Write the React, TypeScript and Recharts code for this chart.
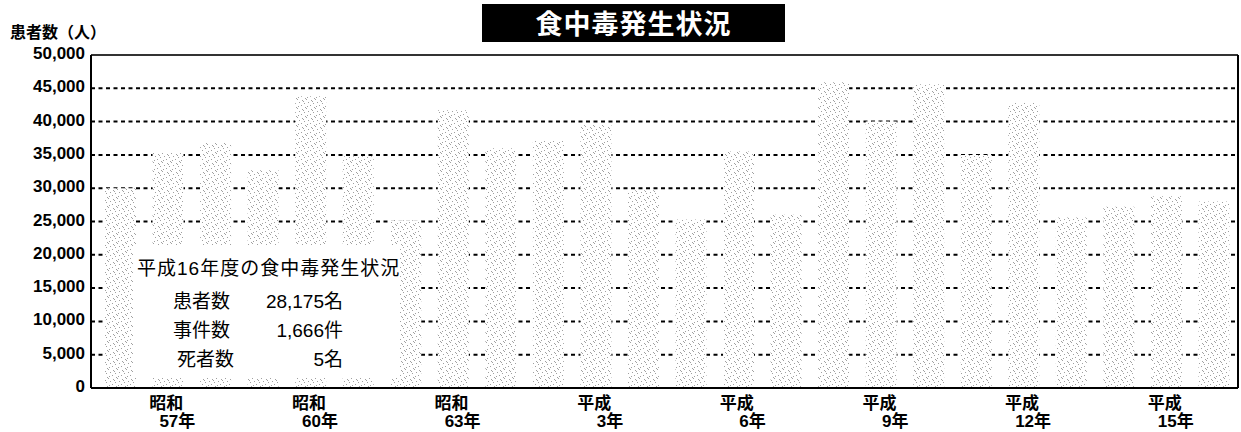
import React from 'react';
import { BarChart, Bar, XAxis, YAxis, CartesianGrid, ReferenceLine } from 'recharts';

const categories = [
  '昭和56', '昭和57', '昭和58', '昭和59', '昭和60', '昭和61', '昭和62', '昭和63',
  '平成1', '平成2', '平成3', '平成4', '平成5', '平成6', '平成7', '平成8',
  '平成9', '平成10', '平成11', '平成12', '平成13', '平成14', '平成15', '平成16',
];
const patients = [
  30000, 35300, 36800, 32700, 43800, 34800, 25200, 41700,
  36000, 37200, 39500, 29700, 25300, 35500, 26000, 45900,
  40000, 45600, 35000, 42800, 25600, 27200, 28800, 28000,
];
const yTicks = [0, 5000, 10000, 15000, 20000, 25000, 30000, 35000, 40000, 45000, 50000];
const tickCategories = ['昭和57', '昭和60', '昭和63', '平成3', '平成6', '平成9', '平成12', '平成15'];
const tickEras = ['昭和', '昭和', '昭和', '平成', '平成', '平成', '平成', '平成'];
const tickYears = ['57年', '60年', '63年', '3年', '6年', '9年', '12年', '15年'];
const chartTitle = '食中毒発生状況';
const yLabel = '患者数（人）';
const summaryTitle = '平成16年度の食中毒発生状況';
const summaryLabels = ['患者数', '事件数', '死者数'];
const summaryValues = ['28,175名', '1,666件', '5名'];

const data = categories.map((c, i) => ({ name: c, value: patients[i] }));

const FONT = "'Liberation Sans', Arial, 'Noto Sans CJK JP', sans-serif";

const XTick = (props: any) => {
  const { x, y, payload } = props;
  const i = tickCategories.indexOf(payload.value);
  if (i < 0) return <g />;
  return (
    <g>
      <text x={x - 2} y={y + 21} textAnchor="middle" fontSize={17} fontWeight="bold" fill="#000" fontFamily={FONT}>
        {tickEras[i]}
      </text>
      <text x={x + 27} y={y + 39} textAnchor="end" fontSize={17} fontWeight="bold" fill="#000" fontFamily={FONT}>
        {tickYears[i]}
      </text>
    </g>
  );
};

const dots: [number, number][] = [
  [0, 0], [5, 1], [2, 3], [7, 4], [4, 6], [1, 7], [8, 8], [6, 2],
];

export default function App() {
  return (
    <div style={{ position: 'absolute', left: 0, top: 0, width: 1241, height: 432, background: '#fff', fontFamily: FONT }}>
      <BarChart
        width={1241}
        height={432}
        data={data}
        margin={{ top: 55, right: 0, bottom: 0, left: 0 }}
        barSize={31}
      >
        <defs>
          <pattern id="stipple" patternUnits="userSpaceOnUse" width={9} height={9}>
            <rect x={0} y={0} width={9} height={9} fill="#fff" />
            {dots.map(([dx, dy], k) => (
              <rect key={k} x={dx} y={dy} width={1} height={1} fill="#a0a0a0" />
            ))}
          </pattern>
        </defs>
        <CartesianGrid
          vertical={false}
          stroke="#000"
          strokeWidth={2}
          strokeDasharray="4 3.5"
        />
        <XAxis
          dataKey="name"
          height={44}
          interval={0}
          tickLine={false}
          tickSize={0}
          tickMargin={0}
          padding={{ left: 6, right: 0 }}
          axisLine={{ stroke: '#000', strokeWidth: 2 }}
          tick={<XTick />}
        />
        <YAxis
          width={91}
          domain={[0, 50000]}
          ticks={yTicks}
          interval={0}
          tickLine={false}
          tickSize={0}
          tickMargin={6}
          axisLine={{ stroke: '#000', strokeWidth: 2 }}
          tickFormatter={(v: number) => v.toLocaleString('en-US')}
          tick={{ fontSize: 17, fontWeight: 'bold', fill: '#000', fontFamily: FONT, dy: -2 }}
        />
        <YAxis
          yAxisId="right"
          orientation="right"
          width={3}
          domain={[0, 50000]}
          tick={false}
          tickLine={false}
          axisLine={{ stroke: '#000', strokeWidth: 2 }}
        />
        <ReferenceLine y={50000} stroke="#333" strokeWidth={2} />
        <Bar dataKey="value" fill="url(#stipple)" isAnimationActive={false} />
      </BarChart>

      <div
        style={{
          position: 'absolute', left: 10, top: 21, fontSize: 16, fontWeight: 'bold',
          fontFamily: "'Noto Sans CJK JP', sans-serif", lineHeight: '20px', color: '#000',
        }}
      >
        {yLabel}
      </div>

      <div
        style={{
          position: 'absolute', left: 482, top: 4, width: 303, height: 38, background: '#000',
          color: '#fff', fontSize: 27, fontWeight: 'bold', textAlign: 'center', lineHeight: '38px',
          fontFamily: "'Noto Sans CJK JP', sans-serif", letterSpacing: 1,
        }}
      >
        {chartTitle}
      </div>

      <div
        style={{
          position: 'absolute', left: 133, top: 245, width: 267, height: 133, background: '#fff',
          color: '#000', fontFamily: FONT,
        }}
      >
        <div style={{ position: 'absolute', left: 4, top: 12, fontSize: 19, lineHeight: '24px', whiteSpace: 'nowrap', letterSpacing: 1 }}>
          {summaryTitle}
        </div>
        {summaryLabels.map((lab, i) => (
          <React.Fragment key={lab}>
            <div
              style={{
                position: 'absolute', left: i === 2 ? 44 : 40, top: 45 + i * 29, fontSize: 19,
                lineHeight: '24px', whiteSpace: 'nowrap',
              }}
            >
              {lab}
            </div>
            <div
              style={{
                position: 'absolute', right: 57, top: 45 + i * 29, fontSize: 19, lineHeight: '24px',
                whiteSpace: 'nowrap', textAlign: 'right',
              }}
            >
              {summaryValues[i]}
            </div>
          </React.Fragment>
        ))}
      </div>
    </div>
  );
}
